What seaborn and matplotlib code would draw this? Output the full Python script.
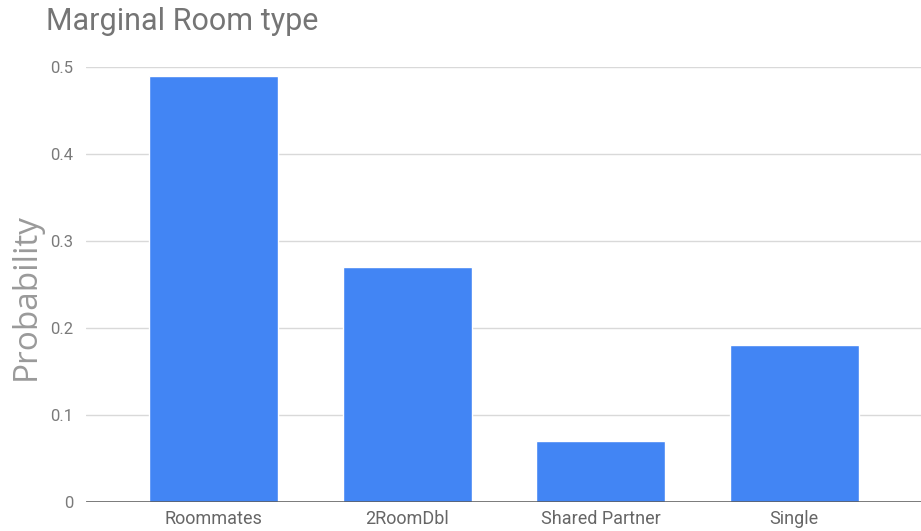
import matplotlib
matplotlib.use("Agg")
import matplotlib.pyplot as plt
import seaborn as sns
import pandas as pd

room_types = ["Roommates", "2RoomDbl", "Shared Partner", "Single"]
probabilities = [0.49, 0.27, 0.07, 0.18]
y_ticks = [0, 0.1, 0.2, 0.3, 0.4, 0.5]
y_tick_labels = ["0", "0.1", "0.2", "0.3", "0.4", "0.5"]

sns.set_theme(style="white")
plt.rcParams["font.family"] = ["Roboto", "DejaVu Sans"]

df = pd.DataFrame({"room": room_types, "prob": probabilities})

fig = plt.figure(figsize=(9.21, 5.31), dpi=100)
ax = fig.add_axes([86 / 921, 29 / 531, 1 - 86 / 921, 435 / 531])

sns.barplot(data=df, x="room", y="prob", color="#4285F4", saturation=1,
            width=0.667, ax=ax, zorder=3)

ax.set_xlim(-0.66, 3.656)
ax.set_ylim(0, 0.5)
ax.set_yticks(y_ticks)
ax.set_yticklabels(y_tick_labels)
ax.yaxis.grid(True, color="#d9d9d9", linewidth=1, zorder=0)
ax.axhline(0, color="#555555", linewidth=1.8, zorder=4)
for s in ax.spines.values():
    s.set_visible(False)
ax.tick_params(axis="y", length=0, pad=9, labelsize=12, labelcolor="#7a7a7a")
ax.tick_params(axis="x", length=0, pad=6, labelsize=13, labelcolor="#666666")
ax.set_xlabel("")
ax.set_ylabel("")

fig.text(46 / 921, 1 - 22 / 531, "Marginal Room type", fontsize=22,
         color="#757575", ha="left", va="center")
fig.text(26 / 921, 1 - 296 / 531, "Probability", fontsize=24, rotation=90,
         color="#9a9a9a", ha="center", va="center",
         family=["Open Sans", "DejaVu Sans"])

fig.savefig("out.png", dpi=100)
